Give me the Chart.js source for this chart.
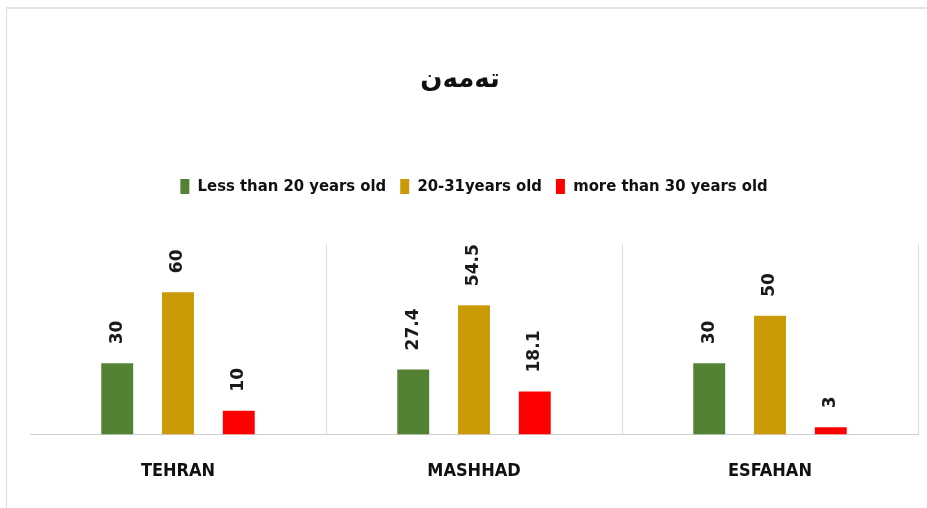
<!DOCTYPE html>
<html>
<head>
<meta charset="utf-8">
<script src="https://cdn.jsdelivr.net/npm/chart.js@4.4.1/dist/chart.umd.min.js"></script>
<style>
  html, body { margin: 0; padding: 0; background: #fff; }
  #frame { position: absolute; left: 6px; top: 7px; width: 940px; height: 520px; border: 1px solid #dcdcdc; border-top: 2px solid #e2e2e2; }
  #wrap { position: absolute; left: 0; top: 0; width: 927px; height: 508px; }
</style>
</head>
<body>
<div id="frame"></div>
<div id="wrap"><canvas id="chart"></canvas></div>
<script>
// --- dados ---
const cidades = ['TEHRAN', 'MASHHAD', 'ESFAHAN'];
const menos20 = [30, 27.4, 30];
const entre20e31 = [60, 54.5, 50];
const mais30 = [10, 18.1, 3];
const nomesSeries = ['Less than 20 years old', '20-31years old', 'more than 30 years old'];
const cores = ['#548235', '#c99a06', '#ff0000'];
const tituloTexto = 'تەمەن';

// rótulos girados acima das barras
const rotulosPlugin = {
  id: 'rotulos',
  afterDatasetsDraw(chart) {
    const ctx = chart.ctx;
    ctx.save();
    ctx.font = 'bold 17px "DejaVu Sans", sans-serif';
    ctx.fillStyle = '#1a1a1a';
    ctx.textAlign = 'left';
    ctx.textBaseline = 'middle';
    chart.data.datasets.forEach((ds, i) => {
      chart.getDatasetMeta(i).data.forEach((bar, j) => {
        ctx.save();
        ctx.translate(bar.x, bar.y - 19);
        ctx.rotate(-Math.PI / 2);
        ctx.fillText(String(ds.data[j]), 0, 0);
        ctx.restore();
      });
    });
    ctx.restore();
  }
};

// espaço extra abaixo da legenda + título um pouco à esquerda
const ajustesLayout = {
  id: 'ajustesLayout',
  beforeInit(chart) {
    const fitOrig = chart.legend.fit;
    chart.legend.fit = function () {
      fitOrig.bind(chart.legend)();
      this.height += 40;
    };
  },
  afterLayout(chart) {
    if (chart.titleBlock) {
      chart.titleBlock.left -= 14;
      chart.titleBlock.right -= 14;
    }
  }
};

const dadosSeries = [menos20, entre20e31, mais30];

new Chart(document.getElementById('chart'), {
  type: 'bar',
  data: {
    labels: cidades,
    datasets: dadosSeries.map((d, i) => ({
      label: nomesSeries[i],
      data: d,
      backgroundColor: cores[i],
      categoryPercentage: 0.616,
      barPercentage: 0.525
    }))
  },
  options: {
    responsive: true,
    maintainAspectRatio: false,
    animation: false,
    layout: { padding: { left: 30, right: 9, top: 0, bottom: 0 } },
    plugins: {
      title: {
        display: true,
        text: tituloTexto,
        color: '#111',
        font: { family: '"DejaVu Sans", sans-serif', size: 26, weight: 'bold' },
        padding: { top: 65, bottom: 68 }
      },
      legend: {
        display: true,
        labels: {
          color: '#111',
          font: { family: '"Liberation Sans Narrow", "DejaVu Sans Condensed", sans-serif', size: 16.5, weight: 'bold' },
          boxWidth: 9,
          boxHeight: 15,
          padding: 14
        }
      },
      tooltip: { enabled: false }
    },
    scales: {
      x: {
        grid: {
          offset: true,
          drawTicks: false,
          color: (c) => c.index === 0 ? 'rgba(0,0,0,0)' : '#dcdcdc'
        },
        border: { display: true, color: '#d0d0d0' },
        ticks: {
          color: '#111',
          padding: 26,
          font: { family: '"DejaVu Sans Condensed", "DejaVu Sans", sans-serif', size: 18, weight: 'bold' }
        }
      },
      y: {
        display: false,
        min: 0,
        max: 80
      }
    }
  },
  plugins: [rotulosPlugin, ajustesLayout]
});
</script>
</body>
</html>
